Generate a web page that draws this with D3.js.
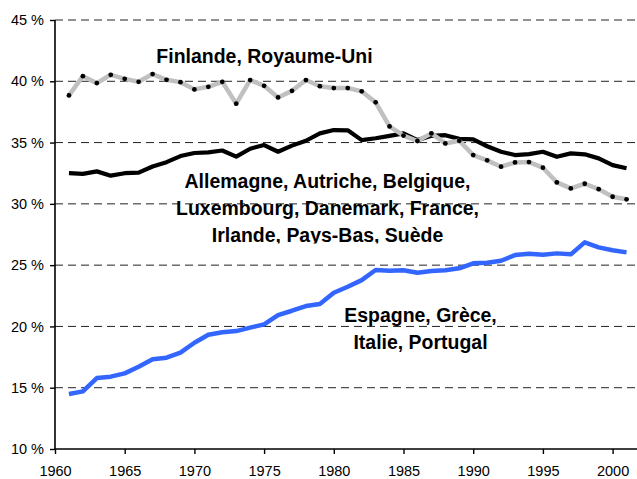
<!DOCTYPE html>
<html><head><meta charset="utf-8">
<script src="https://cdn.jsdelivr.net/npm/d3@7"></script>
<style>
html,body{margin:0;padding:0;background:#fff;}
svg{display:block;}
</style></head>
<body>
<svg id="chart" width="637" height="479"></svg>
<script>
const years = [1961,1962,1963,1964,1965,1966,1967,1968,1969,1970,1971,1972,1973,1974,1975,1976,1977,1978,1979,1980,1981,1982,1983,1984,1985,1986,1987,1988,1989,1990,1991,1992,1993,1994,1995,1996,1997,1998,1999,2000,2001];
const finlandeRoyaumeUni = [38.85,40.42,39.85,40.53,40.2,39.96,40.59,40.12,39.93,39.34,39.55,39.96,38.17,40.1,39.63,38.68,39.22,40.1,39.6,39.45,39.45,39.18,38.28,36.32,35.57,35.13,35.75,34.93,35.15,33.98,33.55,33.03,33.38,33.41,32.95,31.75,31.26,31.64,31.2,30.58,30.37];
const allemagneEtc = [32.5,32.45,32.65,32.3,32.5,32.55,33.05,33.4,33.9,34.15,34.2,34.35,33.85,34.5,34.8,34.25,34.75,35.15,35.75,36.02,36.0,35.2,35.35,35.55,35.75,35.2,35.55,35.6,35.3,35.26,34.7,34.25,33.98,34.06,34.25,33.84,34.12,34.04,33.71,33.16,32.9];
const espagneEtc = [14.49,14.7,15.79,15.9,16.17,16.71,17.32,17.45,17.86,18.67,19.32,19.52,19.62,19.9,20.17,20.93,21.28,21.66,21.83,22.75,23.24,23.78,24.6,24.55,24.58,24.38,24.52,24.58,24.74,25.15,25.2,25.36,25.82,25.93,25.85,25.96,25.88,26.86,26.45,26.21,26.04];
const yTicks = [10,15,20,25,30,35,40,45];
const xTicks = [1960,1965,1970,1975,1980,1985,1990,1995,2000];
const labelFinlande = ["Finlande, Royaume-Uni"];
const labelAllemagne = ["Allemagne, Autriche, Belgique,","Luxembourg, Danemark, France,","Irlande, Pays-Bas, Suède"];
const labelEspagne = ["Espagne, Grèce,","Italie, Portugal"];

const svg = d3.select("#chart");
const x = d3.scaleLinear().domain([1960, 2001.75]).range([55, 637]);
const y = d3.scaleLinear().domain([10, 45]).range([449, 20]);
const font = "'Liberation Sans', Arial, sans-serif";

// gridlines
svg.append("g").selectAll("line").data(yTicks.filter(d => d > 10)).join("line")
  .attr("x1", 55).attr("x2", 637)
  .attr("y1", d => y(d)).attr("y2", d => y(d))
  .attr("stroke", "#222").attr("stroke-width", 1).attr("stroke-dasharray", "8,5");

// axes
const yAxis = d3.axisLeft(y).tickValues(yTicks).tickSize(5).tickPadding(6).tickFormat(d => d + " %");
const gy = svg.append("g").attr("transform", "translate(55,0)").call(yAxis);
const xAxis = d3.axisBottom(x).tickValues(xTicks).tickSize(5).tickPadding(12).tickFormat(d3.format("d"));
const gx = svg.append("g").attr("transform", "translate(0,449)").call(xAxis);
[gx, gy].forEach(g => {
  g.select(".domain").attr("stroke", "#000").attr("stroke-width", 1.6);
  g.selectAll(".tick line").attr("stroke", "#000").attr("stroke-width", 1.4);
  g.selectAll(".tick text").attr("fill", "#000").style("font-family", font).style("font-size", "14.5px");
});
gx.select(".domain").attr("d", "M55,0H637");
gy.select(".domain").attr("d", "M0,449V20");

const line = d3.line().x((d, i) => x(years[i])).y(d => y(d));

svg.append("path").datum(allemagneEtc).attr("d", line)
  .attr("fill", "none").attr("stroke", "#000").attr("stroke-width", 4.2).attr("stroke-linejoin", "round");
svg.append("path").datum(finlandeRoyaumeUni).attr("d", line)
  .attr("fill", "none").attr("stroke", "#c0c0c0").attr("stroke-width", 4.5).attr("stroke-linejoin", "round");
svg.append("g").selectAll("circle").data(finlandeRoyaumeUni).join("circle")
  .attr("cx", (d, i) => x(years[i])).attr("cy", d => y(d)).attr("r", 2.4).attr("fill", "#000");
svg.append("path").datum(espagneEtc).attr("d", line)
  .attr("fill", "none").attr("stroke", "#3366ff").attr("stroke-width", 4.5).attr("stroke-linejoin", "round");

// labels
const defs = svg.append("defs");
defs.append("clipPath").attr("id", "clipAll").append("rect")
  .attr("x", 0).attr("y", 160).attr("width", 637).attr("height", 83.6);

function addLabel(lines, cx, y0, clip) {
  const g = svg.append("g");
  if (clip) g.attr("clip-path", "url(#" + clip + ")");
  g.selectAll("text").data(lines).join("text")
    .attr("transform", (d, i) => "translate(" + cx + "," + (y0 + i * 27) + ") scale(0.95,1)")
    .attr("text-anchor", "middle")
    .style("font-family", font).style("font-size", "20.5px").style("font-weight", "bold")
    .attr("fill", "#000").text(d => d);
}
addLabel(labelFinlande, 264.5, 63.3);
addLabel(labelAllemagne, 327.5, 188.3, "clipAll");
addLabel(labelEspagne, 420.5, 321.7);
</script>
</body></html>
